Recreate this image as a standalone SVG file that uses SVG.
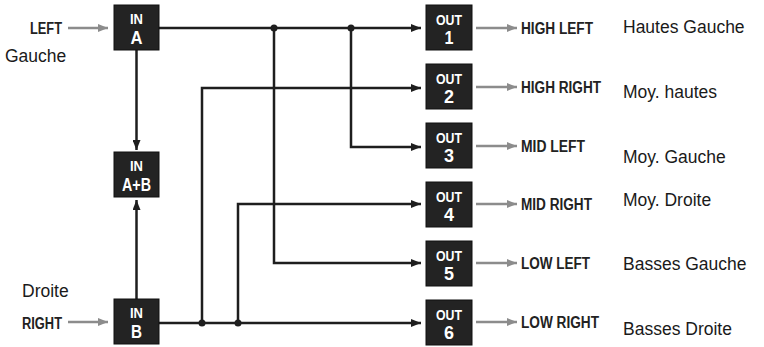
<svg xmlns="http://www.w3.org/2000/svg" width="764" height="347" viewBox="0 0 764 347">
<style>
.box{fill:#232323;stroke:#111;stroke-width:1}
.bt{font-family:"Liberation Sans",Arial,sans-serif;font-weight:bold;fill:#fff;text-anchor:middle}
.s{font-size:15px}
.b{font-size:19px}
.w{fill:none;stroke:#1e1e1e;stroke-width:2.5}
.g{fill:none;stroke:#8c8c8c;stroke-width:2.5}
.lab{font-family:"Liberation Sans",Arial,sans-serif;font-weight:bold;font-size:16px;fill:#222}
.fr{font-family:"Liberation Sans",Arial,sans-serif;font-size:17.5px;fill:#1a1a1a}
.dot{fill:#1e1e1e}
</style>
<defs>
<marker id="ab" markerUnits="userSpaceOnUse" markerWidth="10" markerHeight="8" refX="10" refY="4" orient="auto"><path d="M0,0 L10,4 L0,8 z" fill="#1e1e1e"/></marker>
<marker id="ag" markerUnits="userSpaceOnUse" markerWidth="10" markerHeight="8" refX="10" refY="4" orient="auto"><path d="M0,0 L10,4 L0,8 z" fill="#8c8c8c"/></marker>
</defs>
<rect width="764" height="347" fill="#fff"/>
<g id="connectors">
<path class="w" d="M159,28 H421" marker-end="url(#ab)"/>
<path class="w" d="M351,28 V147 H421" marker-end="url(#ab)"/>
<path class="w" d="M274,28 V263 H421" marker-end="url(#ab)"/>
<path class="w" d="M159,323 H421" marker-end="url(#ab)"/>
<path class="w" d="M202,323 V88 H421" marker-end="url(#ab)"/>
<path class="w" d="M238,323 V204 H421" marker-end="url(#ab)"/>
<path class="w" d="M136.5,50 V150" marker-end="url(#ab)"/>
<path class="w" d="M136.5,299 V200" marker-end="url(#ab)"/>
<circle class="dot" cx="274" cy="28" r="3.5"/>
<circle class="dot" cx="351" cy="28" r="3.5"/>
<circle class="dot" cx="202" cy="323" r="3.5"/>
<circle class="dot" cx="238" cy="323" r="3.5"/>
<path class="g" d="M68,28 H108" marker-end="url(#ag)"/>
<path class="g" d="M68,322 H108" marker-end="url(#ag)"/>
<path class="g" d="M476,28 H517" marker-end="url(#ag)"/>
<path class="g" d="M476,87 H517" marker-end="url(#ag)"/>
<path class="g" d="M476,146 H517" marker-end="url(#ag)"/>
<path class="g" d="M476,204 H517" marker-end="url(#ag)"/>
<path class="g" d="M476,263 H517" marker-end="url(#ag)"/>
<path class="g" d="M476,322 H517" marker-end="url(#ag)"/>
</g>
<g id="in-labels">
<text class="lab" x="30" y="33.5" textLength="32" lengthAdjust="spacingAndGlyphs">LEFT</text>
<text class="lab" x="22" y="328.5" textLength="40" lengthAdjust="spacingAndGlyphs">RIGHT</text>
<text class="fr" x="5" y="62">Gauche</text>
<text class="fr" x="22" y="297">Droite</text>
</g>
<g id="inA"><rect class="box" x="114" y="5" width="45" height="45"/><text class="bt s" x="136.5" y="24" textLength="13" lengthAdjust="spacingAndGlyphs">IN</text><text class="bt b" x="136.5" y="43.5" textLength="12" lengthAdjust="spacingAndGlyphs">A</text></g>
<g id="inAB"><rect class="box" x="114" y="152" width="45" height="45"/><text class="bt s" x="136.5" y="171" textLength="13" lengthAdjust="spacingAndGlyphs">IN</text><text class="bt b" x="136.5" y="190.5" textLength="29" lengthAdjust="spacingAndGlyphs">A+B</text></g>
<g id="inB"><rect class="box" x="114" y="299" width="45" height="45"/><text class="bt s" x="136.5" y="318" textLength="13" lengthAdjust="spacingAndGlyphs">IN</text><text class="bt b" x="136.5" y="337.5" textLength="11" lengthAdjust="spacingAndGlyphs">B</text></g>
<g id="out1"><rect class="box" x="426" y="5" width="46" height="45"/><text class="bt s" x="449" y="25" textLength="26" lengthAdjust="spacingAndGlyphs">OUT</text><text class="bt b" x="449" y="43.5" textLength="9" lengthAdjust="spacingAndGlyphs">1</text><text class="lab" x="521" y="34" textLength="72" lengthAdjust="spacingAndGlyphs">HIGH LEFT</text><text class="fr" x="623" y="33">Hautes Gauche</text></g>
<g id="out2"><rect class="box" x="426" y="64" width="46" height="45"/><text class="bt s" x="449" y="84" textLength="26" lengthAdjust="spacingAndGlyphs">OUT</text><text class="bt b" x="449" y="102.5" textLength="10" lengthAdjust="spacingAndGlyphs">2</text><text class="lab" x="521" y="93" textLength="80" lengthAdjust="spacingAndGlyphs">HIGH RIGHT</text><text class="fr" x="623" y="98">Moy. hautes</text></g>
<g id="out3"><rect class="box" x="426" y="123" width="46" height="45"/><text class="bt s" x="449" y="143" textLength="26" lengthAdjust="spacingAndGlyphs">OUT</text><text class="bt b" x="449" y="161.5" textLength="10" lengthAdjust="spacingAndGlyphs">3</text><text class="lab" x="521" y="152" textLength="64" lengthAdjust="spacingAndGlyphs">MID LEFT</text><text class="fr" x="623" y="163">Moy. Gauche</text></g>
<g id="out4"><rect class="box" x="426" y="182" width="46" height="45"/><text class="bt s" x="449" y="202" textLength="26" lengthAdjust="spacingAndGlyphs">OUT</text><text class="bt b" x="449" y="220.5" textLength="10" lengthAdjust="spacingAndGlyphs">4</text><text class="lab" x="521" y="210" textLength="71" lengthAdjust="spacingAndGlyphs">MID RIGHT</text><text class="fr" x="623" y="206">Moy. Droite</text></g>
<g id="out5"><rect class="box" x="426" y="241" width="46" height="45"/><text class="bt s" x="449" y="261" textLength="26" lengthAdjust="spacingAndGlyphs">OUT</text><text class="bt b" x="449" y="279.5" textLength="10" lengthAdjust="spacingAndGlyphs">5</text><text class="lab" x="521" y="269" textLength="69" lengthAdjust="spacingAndGlyphs">LOW LEFT</text><text class="fr" x="623" y="270">Basses Gauche</text></g>
<g id="out6"><rect class="box" x="426" y="300" width="46" height="45"/><text class="bt s" x="449" y="320" textLength="26" lengthAdjust="spacingAndGlyphs">OUT</text><text class="bt b" x="449" y="338.5" textLength="10" lengthAdjust="spacingAndGlyphs">6</text><text class="lab" x="521" y="328" textLength="78" lengthAdjust="spacingAndGlyphs">LOW RIGHT</text><text class="fr" x="623" y="335">Basses Droite</text></g>
</svg>
